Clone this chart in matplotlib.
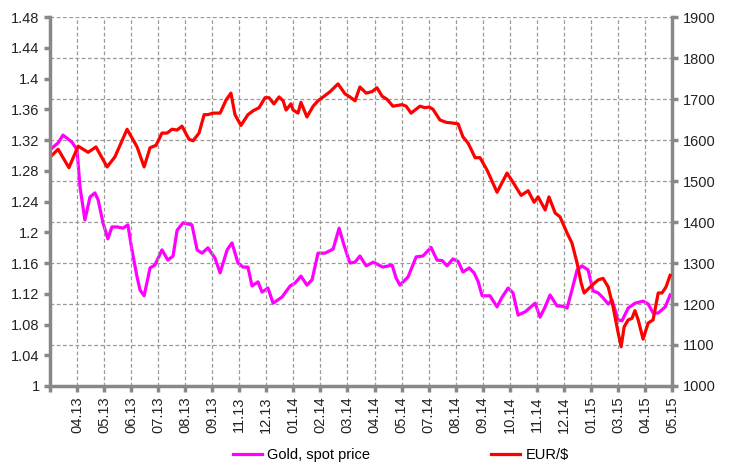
import matplotlib
matplotlib.use("Agg")
import matplotlib.pyplot as plt
from matplotlib.ticker import FixedLocator

plt.rcParams["font.family"] = ["Liberation Sans Narrow", "Liberation Sans", "DejaVu Sans"]

# x positions are in month-tick units (0 = left edge, 23 = last tick "05.15")
month_labels = ["04.13", "05.13", "06.13", "07.13", "08.13", "09.13", "11.13", "12.13",
                "01.14", "02.14", "03.14", "04.14", "05.14", "07.14", "08.14", "09.14",
                "10.14", "11.14", "12.14", "01.15", "03.15", "04.15", "05.15"]

eur_x = [0.07, 0.30, 0.70, 1.04, 1.41, 1.70, 2.11, 2.40, 2.85, 3.22, 3.48, 3.70, 3.92,
         4.14, 4.33, 4.51, 4.70, 4.88, 5.14, 5.29, 5.51, 5.70, 5.84, 6.03, 6.29, 6.51,
         6.69, 6.84, 7.06, 7.32, 7.51, 7.73, 7.95, 8.10, 8.28, 8.47, 8.62, 8.73, 8.91,
         8.99, 9.17, 9.28, 9.50, 9.73, 9.91, 10.10, 10.36, 10.65, 10.91, 11.09, 11.28,
         11.46, 11.69, 11.91, 12.09, 12.28, 12.46, 12.68, 13.02, 13.17, 13.35, 13.68,
         13.87, 14.02, 14.16, 14.42, 14.65, 14.90, 15.09, 15.27, 15.46, 15.72, 15.90,
         16.16, 16.53, 16.90, 17.12, 17.42, 17.68, 17.90, 18.05, 18.31, 18.45, 18.68,
         18.86, 19.12, 19.30, 19.49, 19.64, 19.75, 20.04, 20.27, 20.45, 20.64, 20.82,
         21.01, 21.12, 21.23, 21.38, 21.52, 21.63, 21.75, 21.93, 22.12, 22.30, 22.49,
         22.63, 22.78, 22.93]
eur_usd = [1.300, 1.308, 1.284, 1.312, 1.304, 1.311, 1.285, 1.298, 1.334, 1.311, 1.285,
           1.310, 1.313, 1.329, 1.329, 1.334, 1.333, 1.338, 1.321, 1.319, 1.329, 1.353,
           1.353, 1.355, 1.355, 1.372, 1.381, 1.353, 1.339, 1.353, 1.358, 1.362, 1.375,
           1.375, 1.367, 1.376, 1.371, 1.359, 1.367, 1.359, 1.355, 1.369, 1.350, 1.364,
           1.371, 1.376, 1.383, 1.393, 1.380, 1.376, 1.371, 1.389, 1.381, 1.383, 1.388,
           1.377, 1.373, 1.364, 1.366, 1.364, 1.355, 1.364, 1.362, 1.363, 1.360, 1.346,
           1.343, 1.342, 1.341, 1.324, 1.316, 1.297, 1.297, 1.281, 1.252, 1.277, 1.265,
           1.248, 1.254, 1.239, 1.246, 1.229, 1.246, 1.225, 1.220, 1.199, 1.186, 1.160,
           1.134, 1.121, 1.131, 1.138, 1.140, 1.129, 1.103, 1.069, 1.051, 1.077, 1.086,
           1.088, 1.098, 1.086, 1.061, 1.082, 1.086, 1.121, 1.121, 1.129, 1.144]

gold_x = [0.07, 0.30, 0.48, 0.81, 1.00, 1.11, 1.29, 1.48, 1.66, 1.78, 1.96, 2.14, 2.29,
          2.48, 2.70, 2.88, 3.03, 3.22, 3.33, 3.48, 3.70, 3.88, 4.14, 4.36, 4.55, 4.70,
          4.92, 5.25, 5.44, 5.62, 5.84, 6.10, 6.29, 6.55, 6.73, 6.95, 7.14, 7.32, 7.47,
          7.69, 7.84, 8.06, 8.25, 8.58, 8.88, 9.06, 9.28, 9.50, 9.69, 9.91, 10.17, 10.47,
          10.69, 10.87, 11.09, 11.28, 11.46, 11.69, 11.95, 12.31, 12.65, 12.80, 12.94,
          13.24, 13.54, 13.79, 14.09, 14.31, 14.50, 14.68, 14.90, 15.09, 15.27, 15.50,
          15.68, 15.83, 15.98, 16.27, 16.53, 16.72, 16.94, 17.12, 17.31, 17.57, 17.94,
          18.12, 18.31, 18.49, 18.75, 18.93, 19.12, 19.30, 19.49, 19.67, 19.90, 20.08,
          20.27, 20.45, 20.64, 20.78, 21.01, 21.15, 21.38, 21.63, 21.93, 22.12, 22.30,
          22.49, 22.75, 22.93]
gold = [1580, 1593, 1612, 1595, 1576, 1485, 1405, 1461, 1471, 1454, 1398, 1359, 1388,
        1388, 1385, 1393, 1332, 1266, 1234, 1220, 1288, 1295, 1332, 1307, 1317, 1380,
        1398, 1393, 1332, 1324, 1337, 1312, 1276, 1332, 1349, 1300, 1290, 1290, 1244,
        1254, 1229, 1239, 1202, 1217, 1244, 1251, 1268, 1246, 1259, 1324, 1324, 1334,
        1385, 1344, 1300, 1302, 1317, 1293, 1302, 1290, 1295, 1263, 1246, 1266, 1315,
        1317, 1338, 1307, 1306, 1293, 1310, 1304, 1278, 1288, 1276, 1255, 1220, 1220,
        1193, 1217, 1239, 1227, 1173, 1181, 1202, 1168, 1193, 1222, 1195, 1195, 1190,
        1234, 1283, 1293, 1283, 1232, 1227, 1215, 1200, 1210, 1161, 1159, 1190, 1202,
        1207, 1200, 1178, 1178, 1193, 1222]

axis_grey = "#888888"

fig = plt.figure(figsize=(7.31, 4.65), dpi=100)
ax = fig.add_axes([0.0684, 0.1699, 0.8509, 0.7935])
ax2 = ax.twinx()

# gold on the right axis, drawn below the EUR/$ line
g_line, = ax2.plot(gold_x, gold, color="#ff00ff", lw=2.3, label="Gold, spot price")
e_line, = ax.plot(eur_x, eur_usd, color="#ff0000", lw=2.3, label="EUR/$")
ax.set_zorder(ax2.get_zorder() + 1)
ax.patch.set_visible(False)

ax.set_xlim(0, 23)
ax.set_ylim(1.0, 1.48)
ax2.set_ylim(1000, 1900)
ax.set_yticks([1.0 + 0.04 * i for i in range(13)])
ax.set_yticklabels(["1", "1.04", "1.08", "1.12", "1.16", "1.2", "1.24", "1.28",
                    "1.32", "1.36", "1.4", "1.44", "1.48"])
ax2.set_yticks(range(1000, 1901, 100))

ax.xaxis.set_major_locator(FixedLocator(range(0, 24)))
ax.set_xticklabels([""] + month_labels, rotation=90)

grid_kw = dict(color="#999999", lw=0.9, ls=(0, (3, 2)))
ax.grid(axis="x", **grid_kw)
ax2.grid(axis="y", **grid_kw)

for a in (ax, ax2):
    a.spines["top"].set_visible(False)
    for s in ("left", "right", "bottom"):
        a.spines[s].set_color(axis_grey)
        a.spines[s].set_linewidth(2.5)
    a.tick_params(colors=axis_grey, labelcolor="#222222", width=2.5, length=4,
                  labelsize=10.5)
ax.spines["right"].set_visible(False)
ax2.spines["left"].set_visible(False)
ax2.spines["bottom"].set_visible(False)

fig.legend(handles=[g_line, e_line], loc="center", bbox_to_anchor=(0.548, 0.022),
           ncol=2, frameon=False, fontsize=10.5, columnspacing=8.3, handlelength=2.0,
           handletextpad=0.35)

fig.savefig("out.png", dpi=100)
